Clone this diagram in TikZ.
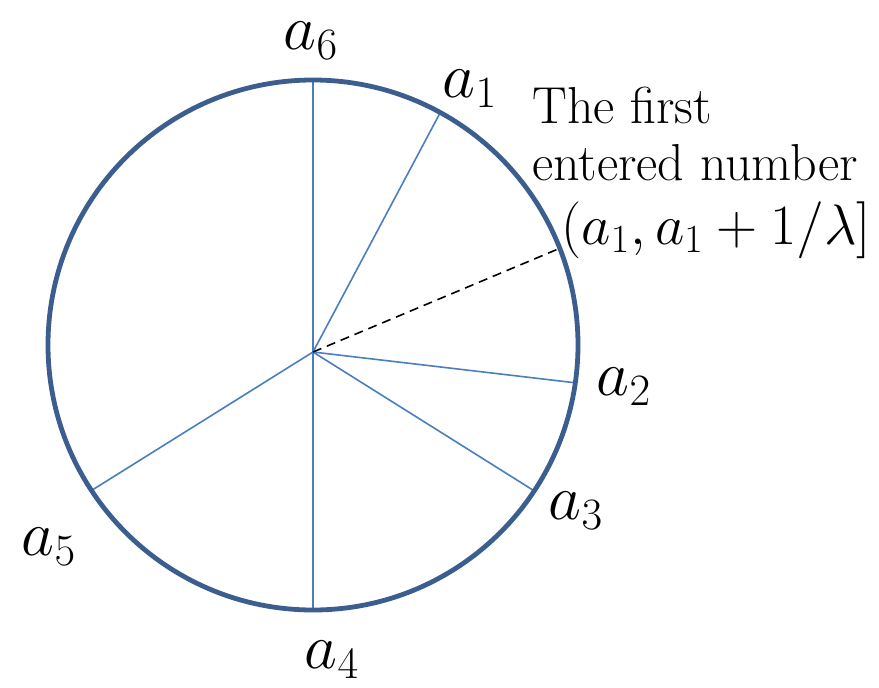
\RequirePackage{fix-cm}
\documentclass[tikz,border=0pt]{standalone}
\usepackage{amsmath}
\usepackage{tikz}
\usetikzlibrary{calc}
\definecolor{rimblue}{RGB}{59,94,143}
\definecolor{spokeblue}{RGB}{74,126,192}
\tikzset{
  lbl/.style={inner sep=0pt,font=\fontsize{32}{38}\selectfont},
  txt/.style={inner sep=0pt,anchor=base west,font=\fontsize{26}{31}\selectfont}
}

\begin{document}
\begin{tikzpicture}[x=0.5pt,y=-0.5pt]
        \useasboundingbox (0,0) rectangle (879,687);
        \coordinate (c) at (313,345);
        \coordinate (o) at (313,352);
        \foreach \n/\a in {1/-61.3,2/8.2,3/33.4,4/90,5/146.7,6/-90}{
            \coordinate (p\n) at ($(c)+(\a:265)$);
            \draw[spokeblue,line width=0.8pt] (o) -- (p\n);
        }
        \coordinate (q) at ($(c)+(-21.4:265)$);
        \draw[dashed,dash pattern=on 4.5pt off 3pt,line width=0.8pt] (o) -- (q);
        \draw[rimblue,line width=2.4pt] (c) circle[radius=132.5pt];
        \node[lbl] (l6) at (311,41) {$a_6$};
        \node[lbl] (l1) at (470,89) {$a_1$};
        \node[lbl] (l2) at (624,387) {$a_2$};
        \node[lbl] (l3) at (576,511) {$a_3$};
        \node[lbl] (l4) at (332,660) {$a_4$};
        \node[lbl] (l5) at (49,547) {$a_5$};
        \node[txt] (t1) at (532,123) {The first};
        \node[txt] (t2) at (532,180) {entered number};
        \node[txt,font=\fontsize{28.5}{34}\selectfont] (iv) at (561,244) {$(a_1, a_1 + 1/\lambda]$};
    \end{tikzpicture}
\end{document}
